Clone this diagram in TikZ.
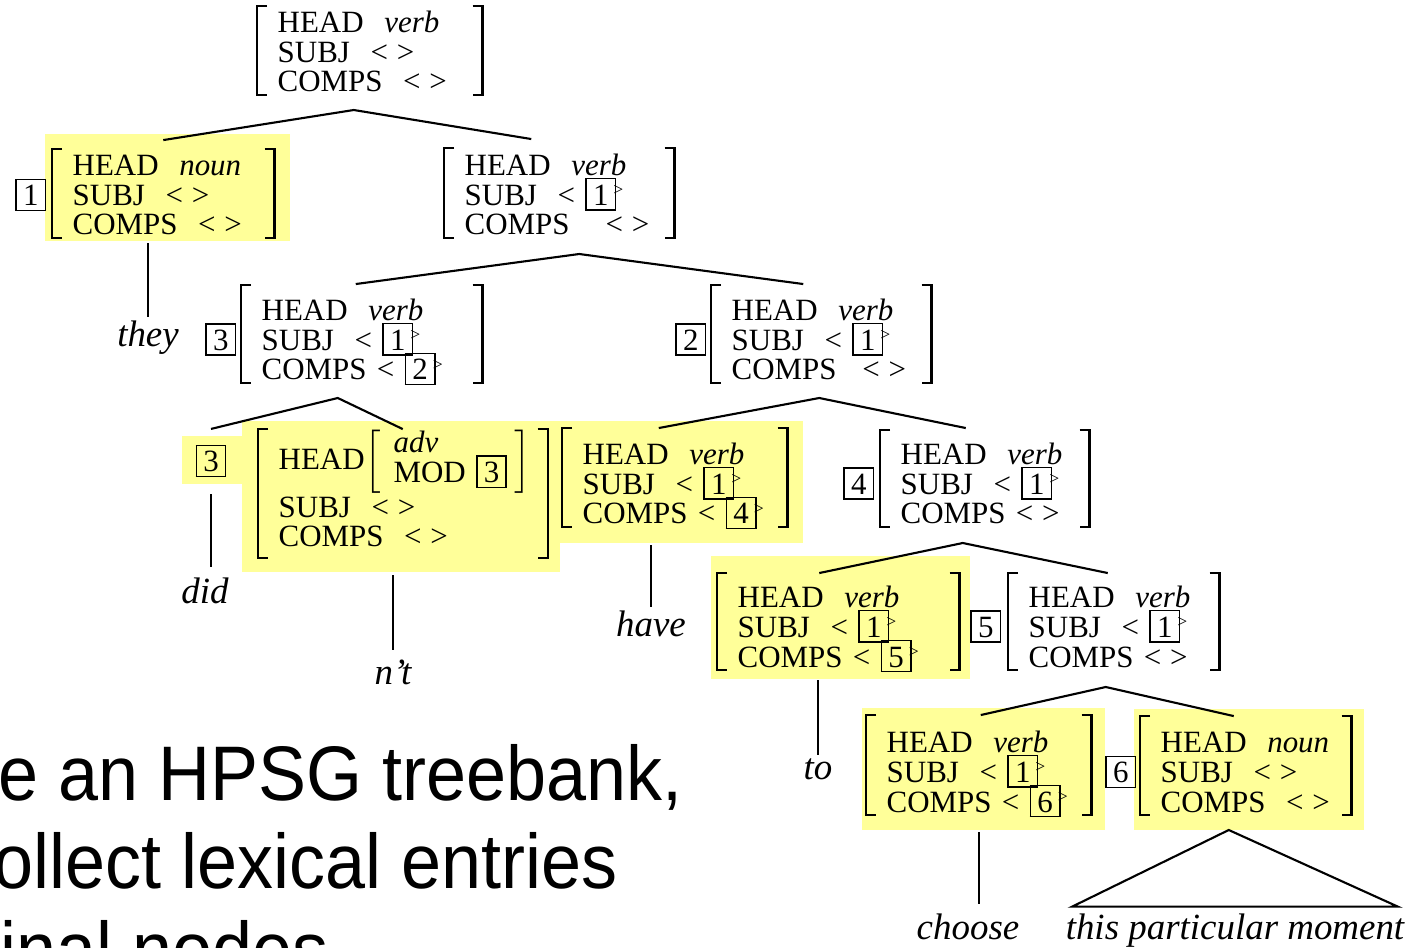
\documentclass[tikz,border=0pt]{standalone}
\usepackage{fontspec}
\setmainfont{Liberation Serif}
\newfontfamily\avmfont{Liberation Serif}
\newfontfamily\slidefont[FakeStretch=0.93]{Liberation Sans}
\usepackage{xcolor}
\usepackage{tikz}
\usetikzlibrary{positioning, calc, backgrounds}
\definecolor{hlyellow}{HTML}{FFFF99}
\newcommand{\tg}[1]{{\setlength{\fboxsep}{0pt}\setlength{\fboxrule}{0.45pt}\fbox{\makebox[7.9pt]{\rule[-1.1pt]{0pt}{8.4pt}#1}}}}
\newcommand{\itg}[1]{\mbox{\smash{\tg{#1}}\kern-0.8pt\raisebox{2.6pt}{\fontsize{5}{5}\selectfont >}}}
\newcommand{\emptyl}{\mbox{<\hspace{2.5pt}>}}
\tikzset{
  avmbox/.style={
    anchor=south west, align=left, inner xsep=0.2cm, inner ysep=0pt,
    font=\avmfont\fontsize{8.8}{8.5}\selectfont
  },
  tagbox/.style={inner sep=0pt, font=\avmfont\fontsize{8.8}{8.5}\selectfont},
  wordlabel/.style={anchor=base, inner sep=0.03cm, font=\fontsize{10.5}{12}\selectfont\itshape},
  slidetext/.style={inner sep=0pt, font=\slidefont\fontsize{22}{25}\selectfont},
  brackline/.style={line width=0.6pt},
  treeline/.style={line width=0.6pt},
  hlfill/.style={fill=hlyellow},
}

\begin{document}
\begin{tikzpicture}[x=0.01cm, y=-0.01cm]
  \useasboundingbox (0,0) rectangle (1420,948);
  \clip (0,0) rectangle (1420,948);

  % Feature structures
  \node[avmbox, text width=1.84cm] (root) at (257,93) {HEAD~~\textit{verb}\\SUBJ~~\emptyl\\COMPS~~\emptyl};
  \node[avmbox, text width=1.81cm] (np1) at (52,236) {HEAD~~\textit{noun}\\SUBJ~~\emptyl\\COMPS~~\emptyl};
  \node[avmbox, text width=1.89cm] (vp1) at (444,236) {HEAD~~\textit{verb}\\SUBJ~~<~\itg{1}\\COMPS~~~\,\emptyl};
  \node[avmbox, text width=2.00cm] (vp2) at (241,381) {HEAD~~\textit{verb}\\SUBJ~~<~\itg{1}\\COMPS~<~\itg{2}};
  \node[avmbox, text width=1.79cm] (vp3) at (711,381) {HEAD~~\textit{verb}\\SUBJ~~<~\itg{1}\\COMPS~~\,\emptyl};
  \node[avmbox, text width=2.48cm] (advn) at (258,548) {HEAD$\left[\begin{tabular}{@{\hspace{3.5pt}}l@{\hspace{2pt}}}\textit{adv}\\MOD~\smash{\tg{3}}\end{tabular}\right]$\\SUBJ~~\emptyl\\COMPS~~\emptyl};
  \node[avmbox, text width=1.84cm] (vhave) at (562,525) {HEAD~~\textit{verb}\\SUBJ~~<~\itg{1}\\COMPS~<~\itg{4}};
  \node[avmbox, text width=1.68cm] (vp4) at (880,525) {HEAD~~\textit{verb}\\SUBJ~~<~\itg{1}\\COMPS~\emptyl};
  \node[avmbox, text width=2.01cm] (vto) at (717,668) {HEAD~~\textit{verb}\\SUBJ~~<~\itg{1}\\COMPS~<~\itg{5}};
  \node[avmbox, text width=1.70cm] (vp5) at (1008,668) {HEAD~~\textit{verb}\\SUBJ~~<~\itg{1}\\COMPS~\emptyl};
  \node[avmbox, text width=1.84cm] (vchoose) at (866,813) {HEAD~~\textit{verb}\\SUBJ~~<~\itg{1}\\COMPS~<~\itg{6}};
  \node[avmbox, text width=1.70cm] (np6) at (1140,813) {HEAD~~\textit{noun}\\SUBJ~~\emptyl\\COMPS~~\emptyl};

  % Tags
  \node[tagbox, left=0.05cm of np1] (tag1) {\tg{1}};
  \node[tagbox, left=0.04cm of vp2] (tag3) {\tg{3}};
  \node[tagbox, left=0.04cm of vp3] (tag2) {\tg{2}};
  \node[tagbox, left=0.05cm of vp4] (tag4) {\tg{4}};
  \node[tagbox, left=0.06cm of vp5] (tag5) {\tg{5}};
  \node[tagbox, left=0.03cm of np6] (tag6) {\tg{6}};
  \node[tagbox] (tag3b) at (211,461) {\tg{3}};

  % Brackets (name / reach above / reach below)
  \foreach \n/\kt/\kb in {root/4/2, np1/5/2, vp1/5/2, vp2/13/2, vp3/13/2, advn/0/10,
                          vhave/14/2, vp4/12/2, vto/12/2, vp5/12/2, vchoose/15/2, np6/15/2} {
    \draw[brackline] ($(\n.north west)+(10,-\kt)$) -- ($(\n.north west)+(0,-\kt)$) -- ($(\n.south west)+(0,\kb)$) -- ($(\n.south west)+(10,\kb)$);
    \draw[brackline] ($(\n.north east)+(-10,-\kt)$) -- ($(\n.north east)+(0,-\kt)$) -- ($(\n.south east)+(0,\kb)$) -- ($(\n.south east)+(-10,\kb)$);
  }

  % Words
  \node[wordlabel] (wthey) at (148,346) {they};
  \node[wordlabel] (wdid) at (205,603) {did};
  \node[wordlabel] (wnt) at (393,684) {n't};
  \node[wordlabel] (whave) at (651,636) {have};
  \node[wordlabel] (wto) at (818,779) {to};
  \node[wordlabel] (wchoose) at (968,939) {choose};
  \node[wordlabel] (wmoment) at (1235,939) {this particular moment};

  % Highlights
  \begin{scope}[on background layer]
    \fill[hlfill] ($(np1.north west)+(-7,-20)$) rectangle ($(np1.south east)+(15,5)$);
    \fill[hlfill] ($(tag3b.north west)+(-13,-8)$) rectangle ($(tag3b.south east)+(15,6)$);
    \fill[hlfill] ($(advn.north west)+(-16,-8)$) rectangle ($(advn.south east)+(12,24)$);
    \fill[hlfill] ($(vhave.north west)+(-4,-21)$) rectangle ($(vhave.south east)+(15,18)$);
    \fill[hlfill] ($(vto.north west)+(-6,-29)$) rectangle ($(vto.south east)+(10,11)$);
    \fill[hlfill] ($(vchoose.north west)+(-4,-22)$) rectangle ($(vchoose.south east)+(13,17)$);
    \fill[hlfill] ($(np6.north west)+(-6,-22)$) rectangle ($(np6.south east)+(12,17)$);
  \end{scope}

  % Branches
  \draw[treeline] ($(np1.north)+(0,-14)$) -- ($(root.south)+(-16,17)$) -- ($(vp1.north)+(-28,-14)$);
  \draw[treeline] ($(vp2.north)+(-6,-14)$) -- ($(vp1.south)+(20,18)$) -- ($(vp3.north)+(-18,-14)$);
  \draw[treeline] ($(tag3b.north)+(0,-15)$) -- ($(vp2.south)+(-24,17)$) -- (advn.north);
  \draw[treeline] ($(vhave.north)+(-16,-14)$) -- ($(vp3.south)+(-2,17)$) -- ($(vp4.north)+(-19,-14)$);
  \draw[treeline] ($(vto.north)+(-19,-12)$) -- ($(vp4.south)+(-22,18)$) -- ($(vp5.north)+(-6,-12)$);
  \draw[treeline] ($(vchoose.north)+(2,-15)$) -- ($(vp5.south)+(-8,19)$) -- ($(np6.north)+(-12,-15)$);

  % Lexical leaves
  \draw[treeline] ($(np1.south -| wthey.north)+(0,7)$) -- (wthey.north);
  \draw[treeline] ($(tag3b.south)+(0,16)$) -- ($(tag3b.south |- wdid.north)+(0,-7)$);
  \draw[treeline] ($(advn.south -| wnt.north)+(0,27)$) -- ($(wnt.north)+(0,-6)$);
  \draw[treeline] ($(vhave.south -| whave.north)+(0,20)$) -- (whave.north);
  \draw[treeline] ($(vto.south -| wto.north)+(0,12)$) -- (wto.north);
  \draw[treeline] ($(vchoose.south)+(0,19)$) -- ($(vchoose.south |- wchoose.north)+(0,-6)$);
  \draw[treeline] ($(wmoment.north west)+(10,-3)$) -- ($(np6.south)+(-17,17)$) -- ($(wmoment.north east)+(-10,-3)$) -- cycle;

  % Slide text behind the tree
  \node[slidetext, anchor=base east] (slide1) at (683,800) {e an HPSG treebank,};
  \node[slidetext, anchor=base east] (slide2) at (618,888) {ollect lexical entries};
  \node[slidetext, anchor=base west] (slide3) at (0,976) {inal nodes};
\end{tikzpicture}
\end{document}
